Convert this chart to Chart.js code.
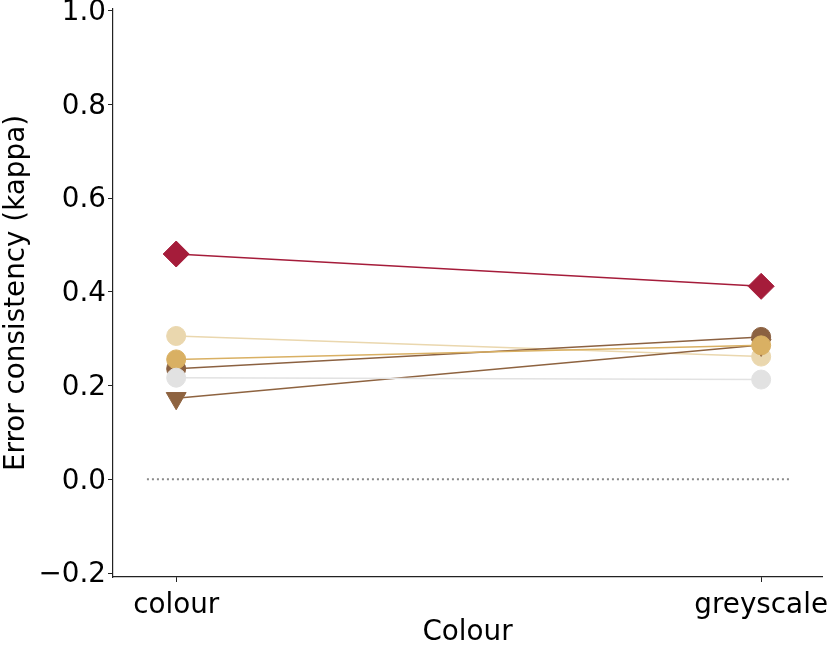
<!DOCTYPE html>
<html>
<head>
<meta charset="utf-8">
<script src="https://cdn.jsdelivr.net/npm/chart.js@4"></script>
<style>
  html, body { margin: 0; padding: 0; background: #fff; }
  #wrap { width: 830px; height: 645px; }
</style>
</head>
<body>
<div id="wrap"><canvas id="chart"></canvas></div>
<script>
// categories on the x axis
const conditions = ["colour", "greyscale"];
const yTicks = [-0.2, 0.0, 0.2, 0.4, 0.6, 0.8, 1.0];

// kappa per model, one value per condition
const redKappa = [0.481, 0.412];
const greyKappa = [0.217, 0.213];
const goldKappa = [0.256, 0.286];
const triangleKappa = [0.173, 0.287];
const brownKappa = [0.236, 0.304];
const tanKappa = [0.306, 0.262];

// dotted reference line at kappa = 0
const zeroLineX = [-0.05, 1.05];
const zeroLineY = [0, 0];

const font = { family: "DejaVu Sans", size: 27.8 };

function toPoints(values) {
  return values.map((v, i) => ({ x: i, y: v }));
}

function series(label, values, color, style, radius, rotation) {
  return {
    label: label,
    data: toPoints(values),
    borderColor: color,
    borderWidth: 1.5,
    pointBackgroundColor: color,
    pointBorderColor: color,
    pointBorderWidth: 1,
    pointStyle: style,
    pointRadius: radius,
    pointHoverRadius: radius,
    pointRotation: rotation || 0,
    tension: 0,
  };
}

new Chart(document.getElementById("chart"), {
  type: "line",
  data: {
    datasets: [
      series("model 1", redKappa, "#a51c3a", "rectRot", 13),
      series("model 2", greyKappa, "#e2e2e2", "circle", 9.5),
      series("model 3", goldKappa, "#d9b063", "circle", 9.5),
      series("model 4", triangleKappa, "#8e6340", "triangle", 11.5, 180),
      series("model 5", brownKappa, "#8b6141", "circle", 9.5),
      series("model 6", tanKappa, "#ead7ae", "circle", 9.5),
      {
        label: "zero",
        data: zeroLineX.map((x, i) => ({ x: x, y: zeroLineY[i] })),
        borderColor: "#8a8a8a",
        borderWidth: 2,
        borderDash: [2, 3],
        pointRadius: 0,
      },
    ],
  },
  options: {
    responsive: true,
    maintainAspectRatio: false,
    animation: false,
    layout: {
      autoPadding: false,
      padding: { top: 9, right: 8, left: 0, bottom: 0 },
    },
    plugins: {
      legend: { display: false },
      tooltip: { enabled: false },
    },
    scales: {
      x: {
        type: "linear",
        min: -0.108,
        max: 1.104,
        afterBuildTicks: (scale) => {
          scale.ticks = conditions.map((c, i) => ({ value: i }));
        },
        afterFit: (scale) => {
          scale.height = 68;
          scale.paddingLeft = 0;
          scale.paddingRight = 0;
        },
        ticks: {
          color: "#000",
          font: font,
          padding: 7,
          maxRotation: 0,
          autoSkip: false,
          callback: (value) => conditions[value],
        },
        grid: {
          drawOnChartArea: false,
          drawTicks: true,
          tickLength: 5,
          color: "#222",
        },
        border: { color: "#222", width: 1.2 },
        title: {
          display: true,
          text: "Colour",
          color: "#000",
          font: { family: "DejaVu Sans", size: 27.8, lineHeight: 1 },
          padding: { top: 4, bottom: -2 },
        },
      },
      y: {
        min: -0.2085,
        max: 1.004,
        afterBuildTicks: (scale) => {
          scale.ticks = yTicks.map((v) => ({ value: v }));
        },
        afterFit: (scale) => {
          scale.width = 113;
          scale.paddingTop = 0;
          scale.paddingBottom = 0;
        },
        ticks: {
          color: "#000",
          font: font,
          padding: 2,
          labelOffset: 2,
          callback: (value) => value.toFixed(1).replace("-", "\u2212"),
        },
        grid: {
          drawOnChartArea: false,
          drawTicks: true,
          tickLength: 5,
          color: "#222",
        },
        border: { color: "#222", width: 1.2 },
        title: {
          display: true,
          text: "Error consistency (kappa)",
          color: "#000",
          font: font,
          padding: { top: 0, bottom: 0 },
        },
      },
    },
  },
});
</script>
</body>
</html>
